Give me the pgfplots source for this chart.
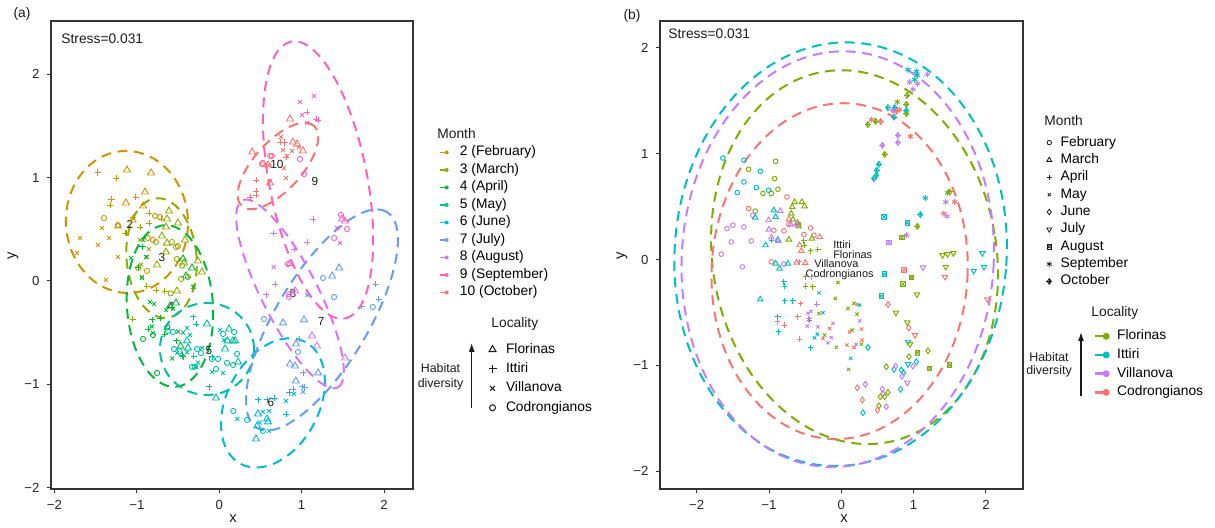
\documentclass[border=0pt]{standalone}
\usepackage{fontspec}
\setmainfont{Liberation Sans}
\usepackage{pgfplots}
\usepackage{pgfplotstable}
\pgfplotsset{compat=1.18}
\usetikzlibrary{plotmarks,arrows.meta}

\definecolor{cX}{HTML}{F8766D}
\definecolor{cII}{HTML}{D39200}
\definecolor{cIII}{HTML}{93AA00}
\definecolor{cIV}{HTML}{00BA38}
\definecolor{cV}{HTML}{00C19F}
\definecolor{cVI}{HTML}{00B9E3}
\definecolor{cVII}{HTML}{619CFF}
\definecolor{cVIII}{HTML}{DB72FB}
\definecolor{cIX}{HTML}{FF61C3}
\definecolor{flc}{HTML}{7CAE00}
\definecolor{itc}{HTML}{00BFC4}
\definecolor{vic}{HTML}{C77CFF}
\definecolor{coc}{HTML}{F8766D}
\definecolor{ink}{HTML}{1A1A1A}

\newcommand\fs{\fontsize{6.9}{8}\selectfont}
\newcommand\ft{\fontsize{6.6}{8}\selectfont}
\newcommand\fss{\fontsize{6.2}{7}\selectfont}
\newcommand\fsn{\fontsize{5.9}{7}\selectfont}
\newcommand\fsl{\fontsize{5.45}{6}\selectfont}

% ---------------- panel (a): one table per month (loc: F=Florinas, I=Ittiri, V=Villanova, C=Codrongianos)
\pgfplotstableread{
x y loc
-1.475 1.048 I
-1.253 0.997 I
-1.120 1.074 F
-0.828 1.045 F
-0.901 0.861 F
-1.011 0.813 I
-1.306 0.793 I
-1.326 0.735 I
-1.132 0.755 F
-0.925 0.726 F
-0.853 0.658 I
-1.399 0.609 C
-1.423 0.513 V
-1.229 0.532 F
-1.047 0.619 I
-1.144 0.464 I
-1.690 0.416 V
-1.338 0.416 V
-1.471 0.348 V
-1.726 0.271 V
-1.229 0.232 V
-0.780 0.629 C
-0.707 0.600 I
-0.865 0.416 C
-0.804 0.397 C
-1.374 0.010 V
-0.877 0.097 C
-0.985 0.126 C
-1.050 0.590 F
-1.230 0.540 C
-0.720 0.620 C
}\aII
\pgfplotstableread{
x y loc
-0.610 0.677 F
-0.501 0.561 F
-0.634 0.600 F
-0.695 0.435 F
-0.646 0.522 F
-0.853 0.561 I
-0.962 0.522 I
-0.574 0.377 C
-0.525 0.329 C
-0.416 0.397 F
-0.962 0.397 V
-0.877 0.232 V
-1.132 0.464 I
-0.768 0.377 C
-0.634 0.367 F
-0.501 0.338 C
-0.646 0.280 F
-0.853 0.309 V
-0.755 0.155 F
-0.513 0.213 C
-0.428 0.174 F
-0.258 0.193 F
-0.450 0.150 C
-0.950 0.160 V
-0.938 0.039 V
-0.768 -0.087 I
-0.659 -0.097 I
-0.590 -0.120 C
-0.513 -0.097 F
-0.319 -0.058 V
-0.464 0.019 C
-0.380 0.039 C
-1.050 -0.368 I
-0.210 0.087 F
-0.880 -0.050 I
}\aIII
\pgfplotstableread{
x y loc
-1.071 0.223 V
-0.925 0.397 V
-0.986 0.135 I
-0.938 0.029 V
-0.889 0.232 V
-0.930 0.330 I
-0.440 0.213 F
-0.331 0.126 F
-0.404 0.048 F
-0.307 -0.058 V
-0.841 -0.203 V
-0.792 -0.223 V
-0.646 -0.281 V
-0.719 -0.358 I
-0.816 -0.377 I
-0.820 -0.440 V
-0.865 -0.465 I
-0.804 -0.503 V
-0.925 -0.561 C
-0.804 -0.523 C
-0.659 -0.513 I
-0.525 -0.213 F
-0.598 -0.242 F
-0.560 -0.270 V
-0.755 -0.890 C
-0.500 -0.490 V
-0.520 -0.580 I
-0.570 -0.750 V
-0.450 -0.720 I
-0.630 -0.450 C
-0.470 -0.630 F
}\aIV
\pgfplotstableread{
x y loc
-0.622 -0.484 C
-0.562 -0.494 C
-0.319 -0.348 I
-0.282 -0.416 I
-0.392 -0.455 V
-0.149 -0.416 F
-0.355 -0.523 V
-0.440 -0.500 V
-0.392 -0.580 F
-0.380 -0.648 F
-0.390 -0.690 V
-0.550 -0.658 C
-0.480 -0.680 C
-0.513 -0.697 V
-0.440 -0.735 I
-0.307 -0.726 I
-0.270 -0.658 C
-0.222 -0.697 C
-0.210 -0.648 V
-0.260 -0.790 V
-0.331 -0.832 C
-0.300 -0.830 C
-0.280 -0.830 V
-0.088 -0.735 I
-0.088 -0.880 V
-0.039 -0.852 C
-0.015 -0.755 C
0.009 -0.474 V
0.046 -0.513 C
0.119 -0.465 F
0.180 -0.494 C
0.058 -0.571 V
0.100 -0.580 F
0.167 -0.580 F
0.192 -0.580 F
0.070 -0.658 F
0.216 -0.706 C
0.228 -0.783 F
0.094 -0.793 C
0.167 -0.813 C
0.046 -0.890 V
-0.124 -1.025 I
-0.039 -1.132 F
-0.090 -0.755 C
}\aV
\pgfplotstableread{
x y loc
0.170 -1.258 C
0.220 -1.335 V
0.337 -1.345 C
0.470 -1.151 I
0.470 -1.287 F
0.530 -1.267 V
0.604 -1.258 V
0.490 -1.370 V
0.580 -1.335 F
0.592 -1.364 F
0.530 -1.451 C
0.604 -1.451 V
0.446 -1.529 F
0.460 -1.403 F
0.580 -1.151 I
0.665 -1.132 I
0.810 -1.287 I
0.810 -1.161 V
0.850 -1.080 I
0.907 -1.093 V
}\aVI
\pgfplotstableread{
x y loc
0.895 -1.045 I
0.930 -0.968 F
1.005 -1.025 I
1.017 -1.074 V
1.040 -1.030 I
1.200 -0.890 F
0.543 -0.368 C
0.774 -0.406 F
1.029 -0.377 F
0.932 -0.610 F
0.956 -0.687 C
0.968 -0.561 I
0.859 -0.803 F
0.920 -0.823 F
1.017 -0.890 I
1.068 -0.135 V
1.370 0.048 F
1.455 0.126 F
1.260 0.029 C
1.394 -0.155 C
1.730 -0.242 I
1.864 -0.252 C
1.938 -0.174 I
1.900 -0.029 I
}\aVII
\pgfplotstableread{
x y loc
0.660 0.135 V
0.680 -0.029 I
0.570 -0.135 I
0.846 -0.155 C
1.126 -0.532 F
1.186 -0.629 F
1.526 -0.745 F
0.890 -0.106 V
0.660 0.464 I
1.066 0.377 I
0.907 0.309 I
0.920 -0.097 F
}\aVIII
\pgfplotstableread{
x y loc
1.151 1.790 V
0.980 1.732 V
1.066 1.635 I
1.005 1.606 V
1.175 1.568 I
1.200 1.558 I
1.066 1.529 V
0.980 1.180 C
1.029 1.035 C
0.530 1.142 C
0.640 1.210 C
1.139 0.600 I
1.478 0.639 C
1.430 0.513 V
1.526 0.580 F
1.490 0.600 F
1.550 0.503 C
1.394 0.416 C
1.466 0.367 V
0.834 0.164 C
0.860 0.170 F
0.850 -0.130 C
}\aIX
\pgfplotstableread{
x y loc
0.859 1.568 F
0.750 1.393 V
0.738 1.345 I
0.790 1.340 I
0.895 1.345 F
0.944 1.325 F
0.968 1.296 V
1.017 1.258 F
0.883 1.258 V
0.774 1.267 V
0.822 1.210 V
0.810 1.200 I
0.400 1.248 F
0.620 1.210 C
0.592 1.122 F
0.786 1.093 V
0.810 0.996 V
0.446 0.977 I
0.616 0.968 V
0.616 0.948 F
0.446 0.871 I
0.446 0.832 I
0.373 0.813 I
0.600 1.120 V
0.520 1.130 C
}\aX

% ---------------- panel (b): one table per month (loc = locality)
\pgfplotstableread{
x y loc
-1.638 0.958 I
-1.347 0.937 I
-1.282 0.852 F
-1.121 0.833 I
-0.909 0.927 F
-1.347 0.732 I
-1.439 0.632 I
-1.176 0.679 I
-0.923 0.764 F
-0.877 0.663 F
-1.006 0.654 I
-0.968 0.623 F
-1.084 0.623 F
-0.752 0.591 C
-1.282 0.481 C
-1.190 0.456 F
-1.223 0.418 V
-1.582 0.292 V
-1.499 0.324 V
-1.347 0.308 V
-0.932 0.276 C
-0.794 0.270 C
-0.725 0.333 C
-0.590 0.333 C
-0.425 0.298 C
-0.517 0.236 C
-0.379 0.229 C
-1.522 0.166 V
-1.245 0.175 V
-1.660 0.050 V
-1.369 -0.070 V
-0.968 -0.022 C
-0.794 -0.044 V
}\bFeb
\pgfplotstableread{
x y loc
-1.190 0.396 I
-0.932 0.465 I
-0.844 0.458 V
-0.909 0.402 I
-1.006 0.371 V
-1.001 0.283 V
-0.725 0.380 C
-0.646 0.543 F
-0.545 0.543 F
-0.508 0.503 F
-0.678 0.496 F
-0.692 0.434 F
-0.669 0.377 F
-0.604 0.345 F
-0.590 0.314 F
-0.701 0.333 V
-0.620 0.330 V
-0.725 0.189 F
-1.047 0.135 I
-0.968 0.208 V
-0.877 0.189 I
-0.870 0.175 V
-0.577 0.135 C
-0.553 0.081 C
-0.300 0.213 C
-0.407 0.198 F
-0.909 -0.038 I
-0.853 -0.085 I
-0.738 -0.038 I
-0.498 -0.032 C
-1.121 -0.377 I
-0.620 -0.030 C
}\bMar
\pgfplotstableread{
x y loc
-0.968 0.182 I
-0.517 0.175 F
-0.510 0.135 F
-0.425 0.081 F
-0.323 0.094 F
-0.577 -0.022 C
-0.498 -0.164 F
-0.393 -0.258 F
-0.498 -0.252 F
-0.794 -0.211 I
-0.784 -0.252 I
-0.415 -0.164 V
-0.784 -0.390 I
-0.669 -0.390 I
-0.567 -0.415 C
-0.337 -0.422 V
-0.877 -0.541 I
-0.885 -0.589 C
-0.784 -0.620 C
-0.867 -0.683 I
-0.600 -0.541 C
-0.577 -0.752 C
-0.425 -0.834 I
-0.438 -0.573 I
-0.450 -0.560 V
}\bApr
\pgfplotstableread{
x y loc
-0.047 -0.217 F
-0.310 -0.315 I
-0.083 -0.368 F
-0.462 -0.509 V
-0.420 -0.490 V
-0.323 -0.636 V
-0.470 -0.629 V
-0.332 -0.705 I
-0.370 -0.740 I
-0.310 -0.509 F
-0.254 -0.503 I
-0.254 -0.745 C
-0.231 -0.714 F
-0.185 -0.786 V
-0.138 -0.736 V
-0.162 -0.651 C
-0.116 -0.604 V
-0.069 -0.830 F
0.078 -0.808 C
0.147 -0.667 F
0.115 -0.683 C
0.092 -0.462 F
0.175 -0.415 F
0.221 -0.425 C
0.216 -0.516 F
0.277 -0.657 C
0.285 -0.761 C
0.277 -0.799 F
0.175 -0.830 C
0.207 -0.802 V
0.253 -0.431 I
0.253 -0.579 V
0.129 -0.934 I
0.101 -1.038 F
}\bMay
\pgfplotstableread{
x y loc
0.368 -0.830 I
0.645 -0.425 C
0.931 -0.645 C
1.198 -0.862 F
0.935 -0.918 F
1.037 -0.966 I
0.990 -1.007 V
0.622 -1.013 F
0.728 -1.038 I
0.751 -1.007 V
0.830 -1.044 I
0.860 -1.070 I
0.839 -1.101 V
0.820 -1.226 I
0.221 -1.211 C
0.332 -1.179 V
0.567 -1.224 V
0.576 -1.266 V
0.539 -1.296 F
0.599 -1.296 F
0.645 -1.255 F
0.290 -1.327 C
0.299 -1.447 I
0.520 -1.381 F
0.498 -1.422 C
0.622 -1.390 V
}\bJun
\pgfplotstableread{
x y loc
1.129 -0.075 V
1.443 -0.070 F
1.433 -0.164 C
1.046 -0.330 F
1.830 -0.107 I
1.972 -0.070 I
2.019 -0.377 C
0.755 -0.503 F
0.912 -0.594 F
1.018 -0.714 C
0.922 -0.777 I
0.950 -0.800 F
0.912 -1.164 V
0.922 -0.988 I
1.400 0.040 F
1.470 0.050 F
1.550 0.060 F
1.950 0.060 I
}\bJul
\pgfplotstableread{
x y loc
0.599 -0.139 I
0.866 -0.101 C
0.968 -0.170 F
0.852 -0.233 F
0.553 -0.346 I
1.051 -0.881 F
1.221 -1.028 F
1.498 -0.997 F
0.912 0.345 I
0.590 0.402 I
0.839 0.208 F
0.659 0.160 V
}\bAug
\pgfplotstableread{
x y loc
0.921 1.792 I
1.037 1.776 I
1.051 1.739 I
1.014 1.698 I
0.945 1.675 V
0.990 1.607 V
1.051 1.660 V
1.190 1.748 V
0.775 1.487 F
0.807 1.415 C
0.415 1.321 C
0.954 1.163 C
1.567 0.543 C
1.443 0.543 V
1.419 0.434 C
1.461 0.408 V
1.162 0.581 I
0.899 0.229 V
1.470 0.630 F
}\bSep
\pgfplotstableread{
x y loc
0.908 1.550 F
0.899 1.465 F
0.645 1.434 I
0.737 1.434 I
0.714 1.408 V
0.728 1.345 I
0.899 1.377 F
0.899 1.406 I
0.544 1.302 C
0.474 1.305 F
0.368 1.274 F
0.783 1.173 V
0.783 1.104 V
0.567 1.078 V
0.599 0.993 F
0.520 0.899 I
0.488 0.842 I
0.484 0.795 I
0.451 0.764 I
1.498 0.638 F
1.093 0.424 I
1.051 0.314 F
0.760 1.400 C
}\bOct

\tikzset{dsh/.style={line width=1pt, dash pattern=on 5pt off 3.3pt},
  bbx/.style={draw=none, fill=none}}
\pgfplotsset{
  panel/.style={scale only axis, height=234pt,
    axis line style={draw=black!80, line width=0.6pt},
    tick align=outside, tick pos=left, major tick length=2.2pt,
    tick style={draw=black!80, line width=0.5pt},
    xtick={-2,-1,0,1,2}, xticklabels={−2,−1,0,1,2},
    ytick={-2,-1,0,1,2}, yticklabels={−2,−1,0,1,2},
    tick label style={font=\ft, text=black!85},
    clip=false},
  aser/.style={only marks, forget plot, scatter, scatter src=explicit symbolic,
    mark options={line width=0.45pt},
    scatter/classes={F={mark=triangle, mark size=2pt}, I={mark=+, mark size=1.6pt},
                     V={mark=x, mark size=1.4pt}, C={mark=o, mark size=1.3pt}}},
  bser/.style={only marks, forget plot, scatter, scatter src=explicit symbolic,
    mark options={line width=0.48pt}, mark size=1.15pt,
    scatter/classes={F={draw=flc}, I={draw=itc}, V={draw=vic}, C={draw=coc}}},
  lgd/.style={legend cell align=left,
    legend style={draw=none, fill=none, inner sep=0pt, outer sep=0pt, font=\fs,
      nodes={inner sep=0pt, text height=5pt, text depth=1.5pt}}},
  mkey/.style={#1, legend image code/.code={\draw[line width=0.7pt] (0pt,0pt) -- (3.5pt,0pt);
      \fill[draw=none] (3.5pt,0pt) circle (1pt); \path[bbx] (0pt,-1.5pt) rectangle (4.5pt,1.5pt);}},
  lkey/.style={#1, legend image code/.code={\draw[line width=1.2pt] (0pt,0pt) -- (5.5pt,0pt);
      \fill[draw=none] (5.5pt,0pt) circle (1.75pt); \path[bbx] (0pt,-1.75pt) rectangle (7.25pt,1.75pt);}},
  amk/.style 2 args={ink, legend image code/.code={\pgfsetlinewidth{0.5pt}\pgfsetplotmarksize{#2}\pgfuseplotmark{#1}\path[bbx] (-2pt,-2pt) rectangle (2pt,2pt);}},
  bmk/.style 2 args={ink, legend image code/.code={\pgfsetlinewidth{0.4pt}\pgfsetplotmarksize{#2}#1\path[bbx] (-1.6pt,-1.6pt) rectangle (1.6pt,1.6pt);}},
}

\begin{document}
\begin{tikzpicture}
\useasboundingbox (0,0) rectangle (607.5pt,264pt);

% ================= panel (a)
\begin{axis}[panel, at={(25.5pt,19.5pt)}, anchor=south west, width=181pt,
  xmin=-2.042, xmax=2.352, ymin=-2.013, ymax=2.516, lgd,
  legend style={at={(1.0718,0.7329)}, anchor=north west, row sep=2.25pt, column sep=5.65pt}]
\addplot[aser, color=cII] table[meta=loc] {\aII};
\addplot[aser, color=cIII] table[meta=loc] {\aIII};
\addplot[aser, color=cIV] table[meta=loc] {\aIV};
\addplot[aser, color=cV] table[meta=loc] {\aV};
\addplot[aser, color=cVI] table[meta=loc] {\aVI};
\addplot[aser, color=cVII] table[meta=loc] {\aVII};
\addplot[aser, color=cVIII] table[meta=loc] {\aVIII};
\addplot[aser, color=cIX] table[meta=loc] {\aIX};
\addplot[aser, color=cX] table[meta=loc] {\aX};
% ellipses
\draw[dsh, cII, rotate around={3:(axis cs:-1.12,0.571)}] (axis cs:-1.12,0.571) ellipse [x radius=30.5pt, y radius=35.5pt];
\draw[dsh, cIII, rotate around={5:(axis cs:-0.70,0.222)}] (axis cs:-0.70,0.222) ellipse [x radius=17.5pt, y radius=30pt];
\draw[dsh, cIV, rotate around={4:(axis cs:-0.598,-0.242)}] (axis cs:-0.598,-0.242) ellipse [x radius=21.5pt, y radius=40.5pt];
\draw[dsh, cV] (axis cs:-0.149,-0.658) ellipse [x radius=23.5pt, y radius=23pt];
\draw[dsh, cVI, rotate around={62:(axis cs:0.652,-1.18)}] (axis cs:0.652,-1.18) ellipse [x radius=34.5pt, y radius=23pt];
\draw[dsh, cVII, rotate around={59:(axis cs:1.247,-0.377)}] (axis cs:1.247,-0.377) ellipse [x radius=63pt, y radius=23pt];
\draw[dsh, cVIII, rotate around={-63:(axis cs:0.859,-0.126)}] (axis cs:0.859,-0.126) ellipse [x radius=52.5pt, y radius=14pt];
\draw[dsh, cIX, rotate around={-79:(axis cs:1.2,0.977)}] (axis cs:1.2,0.977) ellipse [x radius=70.5pt, y radius=24.5pt];
\draw[dsh, cX, rotate around={48:(axis cs:0.713,1.113)}] (axis cs:0.713,1.113) ellipse [x radius=27pt, y radius=12pt];
% month labels
\begin{scope}[every node/.style={font=\fsn, text=ink, inner sep=0pt}]
\node at (axis cs:-1.083,0.552) {2};
\node at (axis cs:-0.695,0.223) {3};
\node at (axis cs:-0.586,-0.242) {4};
\node at (axis cs:-0.124,-0.668) {5};
\node at (axis cs:0.628,-1.171) {6};
\node at (axis cs:1.238,-0.387) {7};
\node at (axis cs:0.895,-0.116) {8};
\node at (axis cs:1.162,0.968) {9};
\node at (axis cs:0.701,1.132) {10};
\end{scope}
\addlegendimage{mkey=cII}\addlegendentry{2 (February)}
\addlegendimage{mkey=cIII}\addlegendentry{3 (March)}
\addlegendimage{mkey=cIV}\addlegendentry{4 (April)}
\addlegendimage{mkey=cV}\addlegendentry{5 (May)}
\addlegendimage{mkey=cVI}\addlegendentry{6 (June)}
\addlegendimage{mkey=cVII}\addlegendentry{7 (July)}
\addlegendimage{mkey=cVIII}\addlegendentry{8 (August)}
\addlegendimage{mkey=cIX}\addlegendentry{9 (September)}
\addlegendimage{mkey=cX}\addlegendentry{10 (October)}
\end{axis}
% locality legend (a)
\begin{axis}[hide axis, scale only axis, at={(25.5pt,19.5pt)}, anchor=south west, width=181pt, height=234pt,
  xmin=0, xmax=1, ymin=0, ymax=1, lgd,
  legend style={at={(1.2086,0.3118)}, anchor=north west, row sep=3.2pt, column sep=4.75pt}]
\addlegendimage{amk={triangle}{2pt}}\addlegendentry{Florinas}
\addlegendimage{amk={+}{2pt}}\addlegendentry{Ittiri}
\addlegendimage{amk={x}{1.7pt}}\addlegendentry{Villanova}
\addlegendimage{amk={o}{1.5pt}}\addlegendentry{Codrongianos}
\end{axis}

% ================= panel (b)
\begin{axis}[panel, at={(330pt,19.5pt)}, anchor=south west, width=181.5pt,
  xmin=-2.507, xmax=2.512, ymin=-2.167, ymax=2.252, lgd,
  legend style={at={(1.0636,0.754)}, anchor=north west, row sep=2.175pt, column sep=4.1pt}]
\addplot[bser, mark=o] table[meta=loc] {\bFeb};
\addplot[bser, mark=triangle, mark size=1.55pt] table[meta=loc] {\bMar};
\addplot[bser, mark=+, mark size=1.4pt] table[meta=loc] {\bApr};
\addplot[bser, mark=x, mark size=1.15pt] table[meta=loc] {\bMay};
\addplot[bser, mark=diamond, mark size=1.45pt] table[meta=loc] {\bJun};
\addplot[bser, mark=triangle, mark size=1.55pt, mark options={line width=0.48pt, rotate=180}] table[meta=loc] {\bJul};
\addplot[bser, mark=square, mark size=1.15pt] table[meta=loc] {\bAug};
\addplot[bser, mark=x, mark size=1.15pt] table[meta=loc] {\bAug};
\addplot[bser, mark=asterisk, mark size=1.5pt] table[meta=loc] {\bSep};
\addplot[bser, mark=diamond, mark size=1.45pt] table[meta=loc] {\bOct};
\addplot[bser, mark=+, mark size=1.45pt] table[meta=loc] {\bOct};
% ellipses
\draw[dsh, flc, rotate around={9.5:(axis cs:0.183,0.022)}] (axis cs:0.183,0.022) ellipse [x radius=71pt, y radius=94pt];
\draw[dsh, itc, rotate around={-4:(axis cs:-0.01,0.05)}] (axis cs:-0.01,0.05) ellipse [x radius=83pt, y radius=106pt];
\draw[dsh, vic, rotate around={-3.5:(axis cs:-0.05,0.003)}] (axis cs:-0.05,0.003) ellipse [x radius=78pt, y radius=104pt];
\draw[dsh, coc, rotate around={-3:(axis cs:-0.024,-0.11)}] (axis cs:-0.024,-0.11) ellipse [x radius=64pt, y radius=84pt];
\begin{scope}[every node/.style={font=\fsl, text=ink, inner sep=0pt, anchor=west, text height=3.95pt, text depth=0.3pt}]
\node at (axis cs:-0.116,0.135) {Ittiri};
\node at (axis cs:-0.116,0.045) {Florinas};
\node at (axis cs:-0.379,-0.044) {Villanova};
\node at (axis cs:-0.498,-0.134) {Codrongianos};
\end{scope}
\addlegendimage{bmk={\pgfuseplotmark{o}}{1.1pt}}\addlegendentry{February}
\addlegendimage{bmk={\pgfuseplotmark{triangle}}{1.4pt}}\addlegendentry{March}
\addlegendimage{bmk={\pgfuseplotmark{+}}{1.3pt}}\addlegendentry{April}
\addlegendimage{bmk={\pgfuseplotmark{x}}{1.1pt}}\addlegendentry{May}
\addlegendimage{bmk={\pgfuseplotmark{diamond}}{1.4pt}}\addlegendentry{June}
\addlegendimage{bmk={\pgftransformrotate{180}\pgfuseplotmark{triangle}}{1.4pt}}\addlegendentry{July}
\addlegendimage{bmk={\pgfuseplotmark{square}\pgfuseplotmark{x}}{1.1pt}}\addlegendentry{August}
\addlegendimage{bmk={\pgfuseplotmark{asterisk}}{1.4pt}}\addlegendentry{September}
\addlegendimage{bmk={\pgfuseplotmark{diamond}\pgfuseplotmark{+}}{1.4pt}}\addlegendentry{October}
\end{axis}
\begin{axis}[hide axis, scale only axis, at={(330pt,19.5pt)}, anchor=south west, width=181.5pt, height=234pt,
  xmin=0, xmax=1, ymin=0, ymax=1, lgd,
  legend style={at={(1.1956,0.3402)}, anchor=north west, row sep=2.85pt, column sep=3.75pt}]
\addlegendimage{lkey=flc}\addlegendentry{Florinas}
\addlegendimage{lkey=itc}\addlegendentry{Ittiri}
\addlegendimage{lkey=vic}\addlegendentry{Villanova}
\addlegendimage{lkey=coc}\addlegendentry{Codrongianos}
\end{axis}

% ================= free text (coordinates in px of the 1215x528 frame)
\begin{scope}[x=0.5pt, y=-0.5pt, yshift=264pt, every node/.style={font=\fs, text=ink, inner sep=0pt}]
\node at (22,14) {(a)};
\node at (632,16) {(b)};
\node[anchor=west] at (61,39) {Stress=0.031};
\node[anchor=west] at (668,34) {Stress=0.031};
\node[font=\fontsize{7.4}{8}\selectfont] at (233,519) {x};
\node[font=\fontsize{7.4}{8}\selectfont, rotate=90] at (13,256) {y};
\node[font=\fontsize{7.4}{8}\selectfont] at (844,519) {x};
\node[font=\fontsize{7.4}{8}\selectfont, rotate=90] at (622,256) {y};
\node[anchor=west] at (437,134) {Month};
\node[anchor=west] at (491,324) {Locality};
\node[anchor=west] at (1044,121) {Month};
\node[anchor=west] at (1091,313) {Locality};
\draw[-{Latex[length=4.5pt,width=3pt]}, line width=0.6pt, ink] (471.7,408) -- (471.7,343);
\node[font=\fss] at (440.5,368) {Habitat};
\node[font=\fss] at (440.5,384) {diversity};
\draw[-{Latex[length=4.5pt,width=3pt]}, line width=0.6pt, ink] (1081,396) -- (1081,332);
\node[font=\fss] at (1049,357) {Habitat};
\node[font=\fss] at (1049,371) {diversity};
\end{scope}
\end{tikzpicture}
\end{document}
